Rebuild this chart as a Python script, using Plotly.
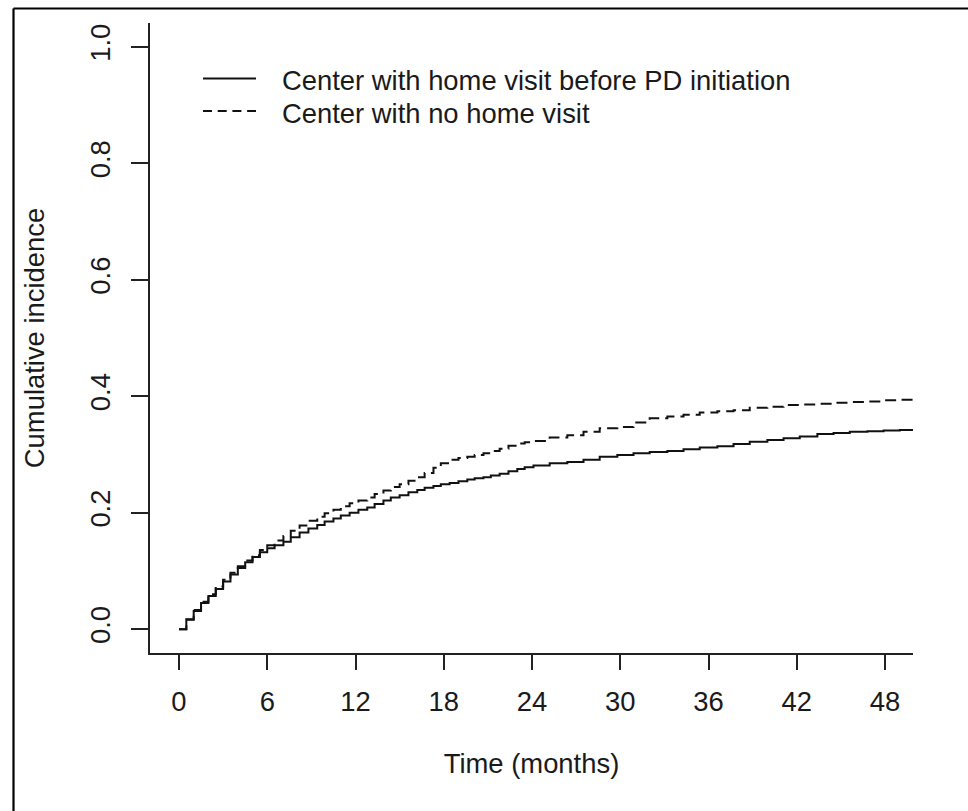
import plotly.graph_objects as go

# ---- data ----
months = [0, 0.5, 1.0, 1.5, 2.0, 2.5, 3.0, 3.5, 4.0, 4.5, 5.0, 5.5, 6.0, 6.5, 7.1, 7.6,
          8.2, 8.8, 9.4, 9.9, 10.5, 11.0, 11.6, 12.2, 12.8, 13.3, 13.9, 14.4, 15.0, 15.6,
          16.2, 16.7, 17.3, 17.8, 18.4, 19.0, 19.6, 20.1, 20.7, 21.2, 21.8, 22.4, 23.0,
          23.5, 24.1, 25.2, 26.4, 27.5, 28.6, 29.8, 30.9, 32.0, 33.2, 34.3, 35.4, 36.6,
          37.7, 38.8, 40.0, 41.1, 42.2, 43.4, 44.5, 45.6, 46.8, 47.9, 49.0, 49.9]
home_visit = [0, 0.016, 0.031, 0.045, 0.057, 0.069, 0.082, 0.094, 0.105, 0.115, 0.124, 0.132,
              0.139, 0.144, 0.150, 0.158, 0.166, 0.173, 0.179, 0.185, 0.190, 0.195, 0.200,
              0.205, 0.209, 0.215, 0.221, 0.226, 0.230, 0.235, 0.239, 0.243, 0.246, 0.249,
              0.251, 0.254, 0.257, 0.259, 0.261, 0.264, 0.267, 0.271, 0.275, 0.278, 0.281,
              0.285, 0.287, 0.291, 0.296, 0.299, 0.302, 0.304, 0.306, 0.309, 0.312, 0.314,
              0.318, 0.322, 0.325, 0.328, 0.331, 0.335, 0.337, 0.339, 0.340, 0.341, 0.342,
              0.342]
no_home_visit = [0, 0.017, 0.033, 0.047, 0.060, 0.073, 0.085, 0.097, 0.108, 0.118, 0.127, 0.136,
                 0.144, 0.152, 0.160, 0.169, 0.178, 0.186, 0.193, 0.199, 0.205, 0.211, 0.216,
                 0.221, 0.226, 0.232, 0.238, 0.244, 0.249, 0.255, 0.261, 0.268, 0.277, 0.285,
                 0.291, 0.294, 0.296, 0.299, 0.302, 0.306, 0.310, 0.315, 0.319, 0.321, 0.323,
                 0.329, 0.333, 0.339, 0.345, 0.347, 0.355, 0.362, 0.365, 0.368, 0.372, 0.374,
                 0.376, 0.380, 0.382, 0.385, 0.386, 0.387, 0.389, 0.390, 0.391, 0.393, 0.394,
                 0.394]
series_names = ["Center with home visit before PD initiation", "Center with no home visit"]
x_ticks = [0, 6, 12, 18, 24, 30, 36, 42, 48]
y_ticks = [0.0, 0.2, 0.4, 0.6, 0.8, 1.0]
x_title = "Time (months)"
y_title = "Cumulative incidence"

# ---- layout geometry (pixels) ----
W, H = 968, 811
L, R, T, B = 150, 913, 23, 653
FONT = "Liberation Sans, Arial, sans-serif"
INK = "#1a1a1a"
FS = 27.4


def px_x(p):
    return (p - L) / (R - L)


def px_y(p):
    return (B - p) / (B - T)


fig = go.Figure()
fig.add_trace(go.Scatter(x=months, y=home_visit, mode="lines", name=series_names[0],
                         line=dict(color="#111111", width=2, shape="hv"), showlegend=False))
fig.add_trace(go.Scatter(x=months, y=no_home_visit, mode="lines", name=series_names[1],
                         line=dict(color="#111111", width=2, shape="hv", dash="11px,6px"),
                         showlegend=False))

shapes = []
# outer frame (top and left edges visible)
shapes.append(dict(type="line", xref="paper", yref="paper", x0=px_x(13.5), x1=px_x(W + 20),
                   y0=px_y(8.5), y1=px_y(8.5), line=dict(color="#000", width=2.2)))
shapes.append(dict(type="line", xref="paper", yref="paper", x0=px_x(13.5), x1=px_x(13.5),
                   y0=px_y(8.5), y1=px_y(H + 20), line=dict(color="#000", width=2.2)))
# legend keys
legend_rows = [78.5, 111.0]
dashes = ["solid", "9px,5.7px"]
annotations = []
for name, yy, d in zip(series_names, legend_rows, dashes):
    shapes.append(dict(type="line", xref="paper", yref="paper", x0=px_x(203), x1=px_x(256),
                       y0=px_y(yy), y1=px_y(yy), line=dict(color="#111", width=2, dash=d)))
    annotations.append(dict(xref="paper", yref="paper", x=px_x(280), y=px_y(yy + 2),
                            xanchor="left", yanchor="middle", text=name, showarrow=False,
                            font=dict(family=FONT, size=FS, color=INK)))

fig.update_layout(
    width=W, height=H,
    margin=dict(l=L, r=W - R, t=T, b=H - B, pad=0),
    paper_bgcolor="white", plot_bgcolor="white",
    font=dict(family=FONT, size=FS, color=INK),
    shapes=shapes, annotations=annotations,
    showlegend=False,
)
fig.update_xaxes(range=[-1.97, 49.9], tickvals=x_ticks, ticktext=[str(v) for v in x_ticks],
                 showgrid=False, zeroline=False, showline=True, linecolor="#222", linewidth=1.8,
                 ticks="outside", ticklen=15, tickwidth=1.8, tickcolor="#222",
                 ticklabelstandoff=8,
                 title=dict(text=x_title, standoff=38, font=dict(size=FS)))
fig.update_yaxes(range=[-0.041, 1.041], tickvals=y_ticks, ticktext=[f"{v:.1f}" for v in y_ticks],
                 tickangle=-90,
                 showgrid=False, zeroline=False, showline=True, linecolor="#222", linewidth=1.8,
                 ticks="outside", ticklen=17, tickwidth=1.8, tickcolor="#222",
                 ticklabelstandoff=10,
                 title=dict(text=y_title, standoff=33, font=dict(size=FS)))

fig.write_html("out.html")
